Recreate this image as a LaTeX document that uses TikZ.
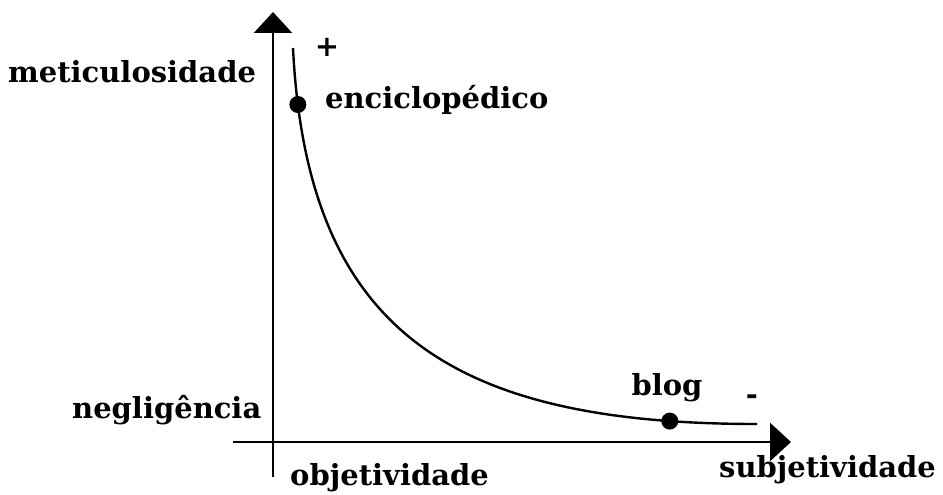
\documentclass[tikz,border=0pt]{standalone}
\usepackage{fontspec}
\setmainfont{DejaVu Serif}
\usetikzlibrary{arrows.meta}
\begin{document}
\begin{tikzpicture}[x=1pt,y=-1pt,
  lbl/.style={font=\bfseries\fontsize{29}{32}\selectfont, inner sep=0pt},
  axis/.style={line width=2.7pt, -{Triangle[width=38pt,length=21pt]}},
  curvestyle/.style={line width=2.4pt},
  pt/.style={circle, fill=black, inner sep=0pt, minimum size=17pt}]
\useasboundingbox (0,0) rectangle (943,495);
% axes
\coordinate (vb) at (273,477);
\coordinate (vt) at (273,12);
\coordinate (hl) at (233,442);
\coordinate (hr) at (791,442);
\draw[axis] (vb) -- (vt);
\draw[axis] (hl) -- (hr);
% curve
\coordinate (cs) at (293,48);
\coordinate (ce) at (757,424);
\draw[curvestyle] (cs) .. controls (307,330) and (450,424) .. (ce)
  node[pt, pos=0.07] (enc) {}
  node[pt, pos=0.9] (blg) {};
% labels
\node[lbl, anchor=west] (met) at (8,72) {meticulosidade};
\node[lbl, anchor=west] (neg) at (72,410) {negligência};
\node[lbl, anchor=west] (obj) at (290,478) {objetividade};
\node[lbl, anchor=west] (sub) at (719,470) {subjetividade};
\node[lbl, anchor=west] (enct) at (325,100) {enciclopédico};
\node[lbl, anchor=center] (blgt) at (667,388) {blog};
\node[lbl] (plus) at (327,47) {+};
\node[lbl] (minus) at (752,400) {-};
\end{tikzpicture}
\end{document}
